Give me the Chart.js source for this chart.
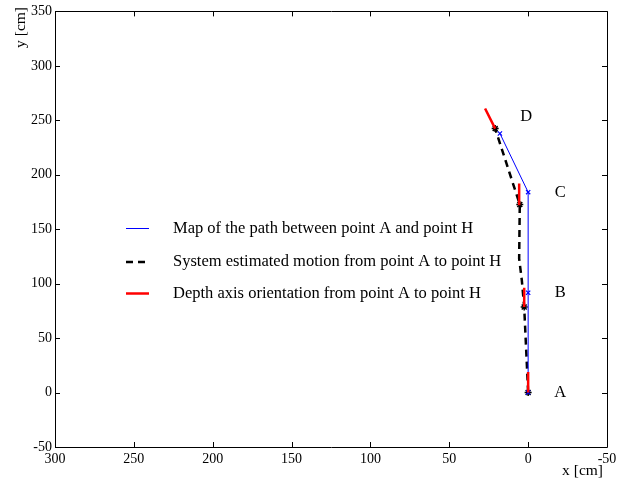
<!DOCTYPE html>
<html>
<head>
<meta charset="utf-8">
<script src="https://cdn.jsdelivr.net/npm/chart.js@4/dist/chart.umd.min.js"></script>
<style>
  html, body { margin: 0; padding: 0; background: #fff; }
  #wrap { width: 630px; height: 484px; }
</style>
</head>
<body>
<div id="wrap"><canvas id="c" width="630" height="484"></canvas></div>
<script>
// ---- data ----
const seriesNames = [
  'Map of the path between point A and point H',
  'System estimated motion from point A to point H',
  'Depth axis orientation from point A to point H'
];
const mapX = [0, 0, 0, 17.9];
const mapY = [0, 91.7, 184, 237.9];
const estX = [0, 2.5, 4, 5.7, 5.3, 20.9];
const estY = [0, 78.5, 103, 123, 172.7, 242.4];
const estMarked = [true, true, false, false, true, true];
const depthX = [0, 0, null, 2.5, 2.5, null, 5.7, 5.7, null, 20.9, 27.3];
const depthY = [0, 18.9, null, 78.5, 96.3, null, 172, 192, null, 242.4, 260.8];
const pointNames = ['A', 'B', 'C', 'D'];
const pointNameX = [-20.3, -20.3, -20.3, 1.3];
const pointNameY = [0, 92, 184, 253.6];
const xTickMin = -50, xTickMax = 300, yTickMin = -50, yTickMax = 350, tickStep = 50;
const xTitle = 'x [cm]';
const yTitle = 'y [cm]';

const FONT = '"Liberation Serif", "DejaVu Serif", serif';

function pts(xs, ys) { return xs.map((x, i) => (x === null ? { x: null, y: null } : { x: x, y: ys[i] })); }

const framePlugin = {
  id: 'frame',
  afterDatasetsDraw(chart) {
    const ctx = chart.ctx, a = chart.chartArea;
    const xs = chart.scales.x, ys = chart.scales.y;
    ctx.save();
    ctx.strokeStyle = '#000';
    ctx.lineWidth = 1;
    ctx.beginPath();
    ctx.rect(Math.round(a.left) + 0.5, Math.round(a.top) + 0.5, Math.round(a.right - a.left), Math.round(a.bottom - a.top));
    ctx.stroke();
    const L = 5;
    ctx.beginPath();
    xs.ticks.forEach(t => {
      const px = Math.round(xs.getPixelForValue(t.value)) + 0.5;
      ctx.moveTo(px, a.bottom); ctx.lineTo(px, a.bottom - L);
      ctx.moveTo(px, a.top); ctx.lineTo(px, a.top + L);
    });
    ys.ticks.forEach(t => {
      const py = Math.round(ys.getPixelForValue(t.value)) + 0.5;
      ctx.moveTo(a.left, py); ctx.lineTo(a.left + L, py);
      ctx.moveTo(a.right, py); ctx.lineTo(a.right - L, py);
    });
    ctx.stroke();

    // point names
    ctx.fillStyle = '#000';
    ctx.font = '16.5px ' + FONT;
    ctx.textAlign = 'center';
    ctx.textBaseline = 'middle';
    pointNames.forEach((n, i) => {
      ctx.fillText(n, xs.getPixelForValue(pointNameX[i]), ys.getPixelForValue(pointNameY[i]));
    });

    // legend
    const lx0 = 126, lx1 = 149, tx = 173;
    const rows = [228.5, 262, 293.5];
    const dsOrder = [0, 1, 2];
    ctx.textAlign = 'left';
    ctx.textBaseline = 'middle';
    dsOrder.forEach((di, r) => {
      const ds = chart.data.datasets[di];
      ctx.save();
      ctx.strokeStyle = ds.borderColor;
      ctx.lineWidth = ds.borderWidth;
      ctx.setLineDash(ds.borderDash || []);
      ctx.beginPath();
      ctx.moveTo(lx0, rows[r]); ctx.lineTo(lx1, rows[r]);
      ctx.stroke();
      ctx.restore();
      ctx.fillText(ds.label, tx, rows[r]);
    });

    // axis titles
    ctx.font = '15.5px ' + FONT;
    ctx.textAlign = 'right';
    ctx.textBaseline = 'alphabetic';
    ctx.fillText(xTitle, a.right - 4, 475);
    ctx.save();
    ctx.translate(25, 7);
    ctx.rotate(-Math.PI / 2);
    ctx.textAlign = 'right';
    ctx.fillText(yTitle, 0, 0);
    ctx.restore();
    ctx.restore();
  }
};

new Chart(document.getElementById('c'), {
  type: 'scatter',
  data: {
    datasets: [
      {
        label: seriesNames[0],
        data: pts(mapX, mapY),
        showLine: true,
        borderColor: '#0000ff',
        backgroundColor: '#0000ff',
        borderWidth: 1,
        pointStyle: 'crossRot',
        pointRadius: 3,
        pointBorderWidth: 1.2,
        order: 2
      },
      {
        label: seriesNames[1],
        data: pts(estX, estY),
        showLine: true,
        borderColor: '#000000',
        backgroundColor: '#000000',
        borderWidth: 2.5,
        borderDash: [7, 5],
        pointStyle: 'star',
        pointRadius: estMarked.map(m => (m ? 3.5 : 0)),
        pointBorderWidth: 1.5,
        order: 3
      },
      {
        label: seriesNames[2],
        data: pts(depthX, depthY),
        showLine: true,
        spanGaps: false,
        borderColor: '#ff0000',
        backgroundColor: '#ff0000',
        borderWidth: 2.5,
        pointRadius: 0,
        order: 1
      }
    ]
  },
  options: {
    responsive: false,
    devicePixelRatio: 1,
    animation: false,
    layout: { padding: { top: 10, right: 23, left: 0, bottom: 0 } },
    plugins: { legend: { display: false }, tooltip: { enabled: false } },
    scales: {
      x: {
        type: 'linear',
        reverse: true,
        min: xTickMin, max: xTickMax,
        grid: { display: false, drawTicks: false },
        border: { display: false },
        ticks: { stepSize: tickStep, color: '#000', font: { family: FONT, size: 14 }, padding: 4, maxRotation: 0 },
        afterFit(s) { s.height = 37; }
      },
      y: {
        type: 'linear',
        min: yTickMin, max: yTickMax,
        grid: { display: false, drawTicks: false },
        border: { display: false },
        ticks: { stepSize: tickStep, color: '#000', font: { family: FONT, size: 14 }, padding: 3 },
        afterFit(s) { s.width = 55; }
      }
    }
  },
  plugins: [framePlugin]
});
</script>
</body>
</html>
